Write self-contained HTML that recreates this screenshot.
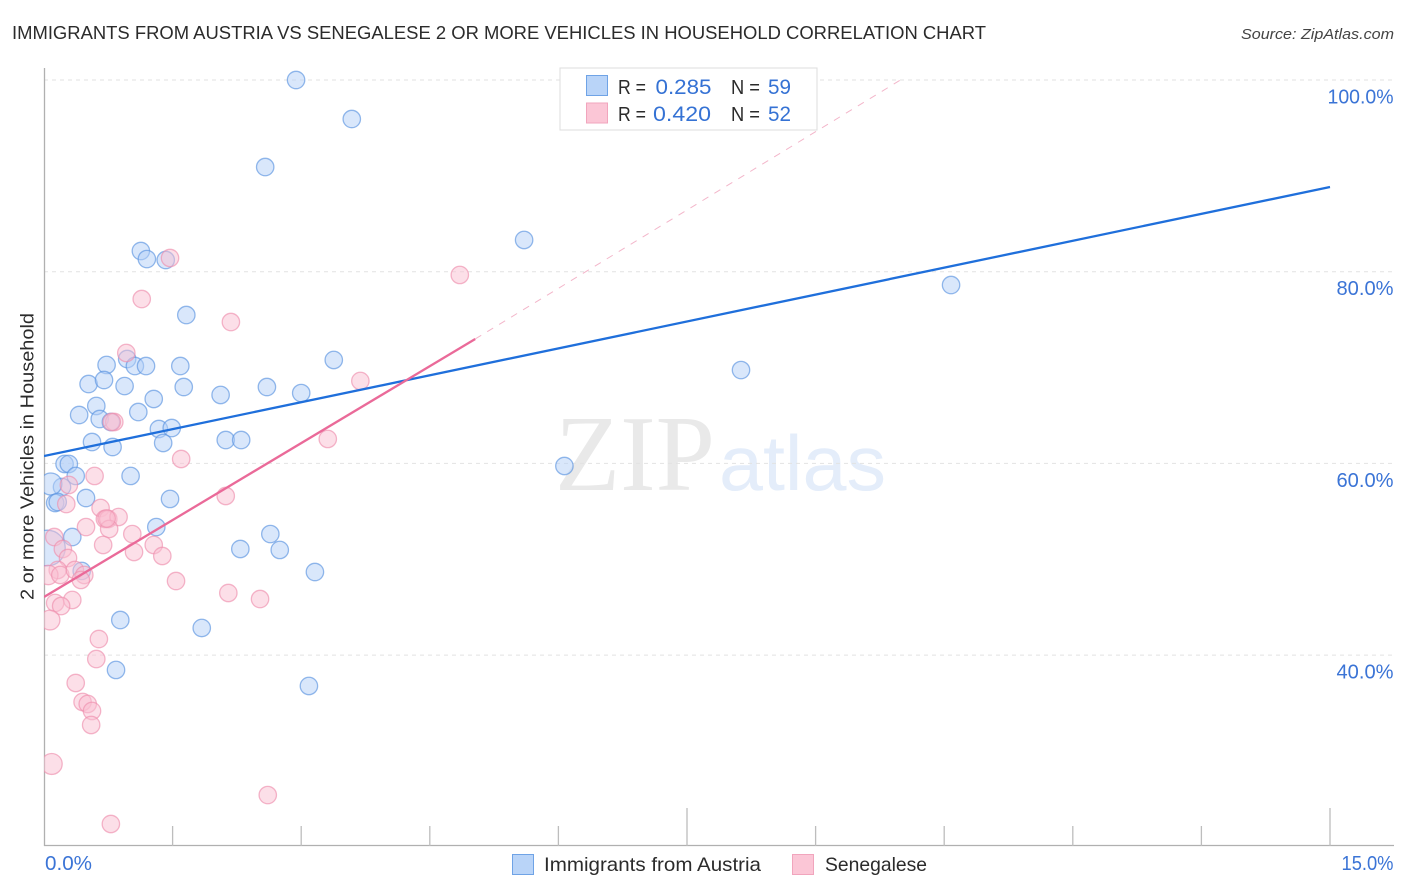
<!DOCTYPE html>
<html lang="en">
<head>
<meta charset="utf-8">
<title>Immigrants from Austria vs Senegalese 2 or more Vehicles in Household Correlation Chart</title>
<style>
html,body{margin:0;padding:0;background:#fff}
svg{display:block;font-family:"Liberation Sans",sans-serif}
</style>
</head>
<body>
<svg id="chart" xmlns="http://www.w3.org/2000/svg" width="1406" height="892" viewBox="0 0 1406 892">
<defs><clipPath id="plot-clip"><rect x="44" y="60" width="1350" height="786"></rect></clipPath></defs>
<rect x="0" y="0" width="1406" height="892" fill="#fff"></rect>
<text x="12" y="39" font-size="18.7" fill="#2b2b2b" textLength="974" lengthAdjust="spacingAndGlyphs">IMMIGRANTS FROM AUSTRIA VS SENEGALESE 2 OR MORE VEHICLES IN HOUSEHOLD CORRELATION CHART</text>
<text x="1241" y="39" font-size="15" font-style="italic" fill="#444" textLength="153" lengthAdjust="spacingAndGlyphs">Source: ZipAtlas.com</text>
<g>
<text x="555" y="490" font-family="'Liberation Serif',serif" font-size="108" fill="#e9e9e9" textLength="160" lengthAdjust="spacingAndGlyphs">ZIP</text>
<text x="719" y="490" font-size="78" fill="#e4edfa" textLength="167" lengthAdjust="spacingAndGlyphs">atlas</text>
</g>
<g id="grid"></g>
<g id="axes"></g>
<g id="points" clip-path="url(#plot-clip)"></g>
<g id="trends" clip-path="url(#plot-clip)"></g>
<g id="tick-labels"></g>
<text transform="translate(33.5,600) rotate(-90)" x="0" y="0" font-size="18.7" fill="#2b2b2b" textLength="287" lengthAdjust="spacingAndGlyphs">2 or more Vehicles in Household</text>
<g>
<rect x="560" y="68" width="257" height="62" fill="#fff" stroke="#ddd" stroke-width="1"></rect>
<rect x="586.5" y="75.5" width="21" height="20" fill="#b9d4f8" stroke="#6fa3e6"></rect>
<rect x="586.5" y="103" width="21" height="20" fill="#fbc6d6" stroke="#f1a5bd"></rect>
<text x="618" y="94" font-size="20" fill="#2b2b2b" textLength="28" lengthAdjust="spacingAndGlyphs">R =</text>
<text x="655.5" y="94" font-size="21.5" fill="#3572d4" textLength="56" lengthAdjust="spacingAndGlyphs">0.285</text>
<text x="731" y="94" font-size="20" fill="#2b2b2b" textLength="29" lengthAdjust="spacingAndGlyphs">N =</text>
<text x="768" y="94" font-size="21.5" fill="#3572d4" textLength="23" lengthAdjust="spacingAndGlyphs">59</text>
<text x="618" y="121" font-size="20" fill="#2b2b2b" textLength="28" lengthAdjust="spacingAndGlyphs">R =</text>
<text x="653" y="121" font-size="21.5" fill="#3572d4" textLength="58" lengthAdjust="spacingAndGlyphs">0.420</text>
<text x="731" y="121" font-size="20" fill="#2b2b2b" textLength="29" lengthAdjust="spacingAndGlyphs">N =</text>
<text x="768" y="121" font-size="21.5" fill="#3572d4" textLength="23" lengthAdjust="spacingAndGlyphs">52</text>
</g>
<g>
<rect x="512.5" y="854.5" width="21" height="20" fill="#b9d4f8" stroke="#6fa3e6"></rect>
<text x="544" y="871" font-size="19.5" fill="#2b2b2b" textLength="217" lengthAdjust="spacingAndGlyphs">Immigrants from Austria</text>
<rect x="792.5" y="854.5" width="21" height="20" fill="#fbc6d6" stroke="#f1a5bd"></rect>
<text x="825" y="871" font-size="19.5" fill="#2b2b2b" textLength="102" lengthAdjust="spacingAndGlyphs">Senegalese</text>
</g>
</svg>
<script>
const austriaX = [2.94,3.59,2.58,5.60,1.13,1.20,1.42,1.66,10.58,8.13,3.38,0.73,0.97,1.06,1.19,1.59,0.52,0.70,0.94,1.63,2.60,3.00,2.06,1.28,0.61,0.41,1.10,0.65,0.78,1.34,1.49,0.56,0.80,1.39,2.12,2.30,1.01,0.24,0.29,0.37,6.07,0.21,0.08,0.49,0.13,0.16,1.47,1.31,0.33,0.04,2.29,2.64,2.75,0.44,3.16,0.89,1.84,0.84,3.09];
const austriaY = [100,95.93,90.92,83.31,82.16,81.32,81.22,75.48,78.61,69.74,70.79,70.27,70.89,70.16,70.16,70.16,68.28,68.70,68.07,67.97,67.97,67.34,67.14,66.72,65.99,65.05,65.36,64.63,64.32,63.59,63.69,62.23,61.71,62.13,62.44,62.44,58.69,59.94,59.94,58.69,59.73,57.54,57.85,56.39,55.87,55.97,56.29,53.36,52.32,51.17,51.07,52.63,50.97,48.78,48.67,43.66,42.83,38.45,36.78];
const austriaBig = {42: 1.6, 49: 4.2};
const senegaleseX = [1.47,1.14,2.18,4.85,0.96,3.69,0.82,0.79,3.31,1.60,0.59,0.29,2.12,0.26,0.66,0.71,0.75,0.87,0.49,0.76,0.12,1.03,0.69,1.05,1.28,0.22,1.38,0.28,0.16,0.05,0.19,0.36,0.47,0.43,1.54,2.15,2.52,0.33,0.13,0.20,0.07,0.64,0.61,0.37,0.45,0.51,0.56,0.55,0.09,2.61,0.78,0.73];
const senegaleseY = [81.43,77.15,74.75,79.66,71.52,68.60,64.32,64.32,62.55,60.46,58.69,57.75,56.60,55.76,55.35,54.20,54.20,54.41,53.36,53.16,52.32,52.63,51.49,50.76,51.49,51.07,50.34,50.13,48.88,48.36,48.36,48.88,48.36,47.84,47.73,46.48,45.85,45.75,45.44,45.12,43.66,41.68,39.59,37.09,35.11,34.90,34.17,32.71,28.64,25.40,22.38,54.25];
const senegaleseBig = {29: 1.25, 40: 1.3, 48: 1.45};
const yTickValues = [100,80,60,40];
const yTickLabels = ["100.0%","80.0%","60.0%","40.0%"];
const xTickValues = [0,1.5,3,4.5,6,7.5,9,10.5,12,13.5,15];
const xMajorTicks = [0,7.5,15];
const xEndValues = [0,15];
const xEndLabels = ["0.0%","15.0%"];
const austriaTrendX = [0,15];
const austriaTrendY = [60.77,88.84];
const senegaleseTrendX = [0,5.03];
const senegaleseTrendY = [46.06,72.98];
const senegaleseExtensionX = [5.03,9.99];
const senegaleseExtensionY = [72.98,100];

const NS = 'http://www.w3.org/2000/svg';
function sx(v){ return 44 + v * (1330 - 44) / 15; }
function sy(v){ return 80 + (100 - v) * 9.585; }
function labelWidth(t){
  if (t.length === 6) return 66;
  if (t.length === 4) return 47;
  return t.charAt(0) === '1' ? 52 : 57;
}
function make(parent, tag, attrs){
  const el = document.createElementNS(NS, tag);
  for (const k in attrs) el.setAttribute(k, attrs[k]);
  parent.appendChild(el);
  return el;
}
const grid = document.getElementById('grid');
const axes = document.getElementById('axes');
const pts = document.getElementById('points');
const trends = document.getElementById('trends');
const labels = document.getElementById('tick-labels');

yTickValues.forEach(function(v){
  const l = make(grid, 'line', {x1:44, x2:1394, y1:sy(v), y2:sy(v), stroke:'#e2e2e2', 'stroke-width':1, 'stroke-dasharray':'4 4'});
  
  
});
yTickLabels.forEach(function(t, i){
  const w = labelWidth(t);
  const el = make(labels, 'text', {x:1393.5 - w, y:sy(yTickValues[i]) + 23.5, 'font-size':20, fill:'#3b74d6', textLength:w, lengthAdjust:'spacingAndGlyphs'});
  el.textContent = t;
  
  
});
const yAxis = make(axes, 'line', {x1:44.5, x2:44.5, y1:68, y2:846, stroke:'#b0b0b0', 'stroke-width':1.3});


const xAxis = make(axes, 'line', {x1:44, x2:1394, y1:845.5, y2:845.5, stroke:'#b0b0b0', 'stroke-width':1.3});


xTickValues.forEach(function(v){
  if (v === 0) return;
  const top = xMajorTicks.indexOf(v) >= 0 ? 808 : 826;
  const t = make(axes, 'line', {x1:sx(v), x2:sx(v), y1:top, y2:846, stroke:'#bdbdbd', 'stroke-width':1.3});
  
  
});
xEndLabels.forEach(function(t, i){
  const w = labelWidth(t);
  const px = i === 0 ? sx(xEndValues[i]) + 1 : sx(xEndValues[i]) + 63.5 - w;
  const el = make(labels, 'text', {x:px, y:870, 'font-size':20, fill:'#3b74d6', textLength:w, lengthAdjust:'spacingAndGlyphs'});
  el.textContent = t;
  
  
});
function drawSeries(xs, ys, big, fill, stroke, name){
  xs.forEach(function(x, i){
    const r = 8.7 * (big[i] ? Math.sqrt(big[i]) : 1);
    const c = make(pts, 'circle', {cx:sx(x), cy:sy(ys[i]), r:r, fill:fill, 'fill-opacity':0.5, stroke:stroke, 'stroke-opacity':0.65, 'stroke-width':1.3});
    
    
  });
}
drawSeries(austriaX, austriaY, austriaBig, '#b3d0f7', '#5b93e0', 'austria-point');
drawSeries(senegaleseX, senegaleseY, senegaleseBig, '#fac0d2', '#ee8fae', 'senegalese-point');
const tA = make(trends, 'line', {x1:sx(austriaTrendX[0]), y1:sy(austriaTrendY[0]), x2:sx(austriaTrendX[1]), y2:sy(austriaTrendY[1]), stroke:'#1f6fdb', 'stroke-width':2.3});


const tS = make(trends, 'line', {x1:sx(senegaleseTrendX[0]), y1:sy(senegaleseTrendY[0]), x2:sx(senegaleseTrendX[1]), y2:sy(senegaleseTrendY[1]), stroke:'#ea6a99', 'stroke-width':2.3});


const tE = make(trends, 'line', {x1:sx(senegaleseExtensionX[0]), y1:sy(senegaleseExtensionY[0]), x2:sx(senegaleseExtensionX[1]), y2:sy(senegaleseExtensionY[1]), stroke:'#f3b6ca', 'stroke-width':1, 'stroke-dasharray':'7 7'});


</script>
</body>
</html>
